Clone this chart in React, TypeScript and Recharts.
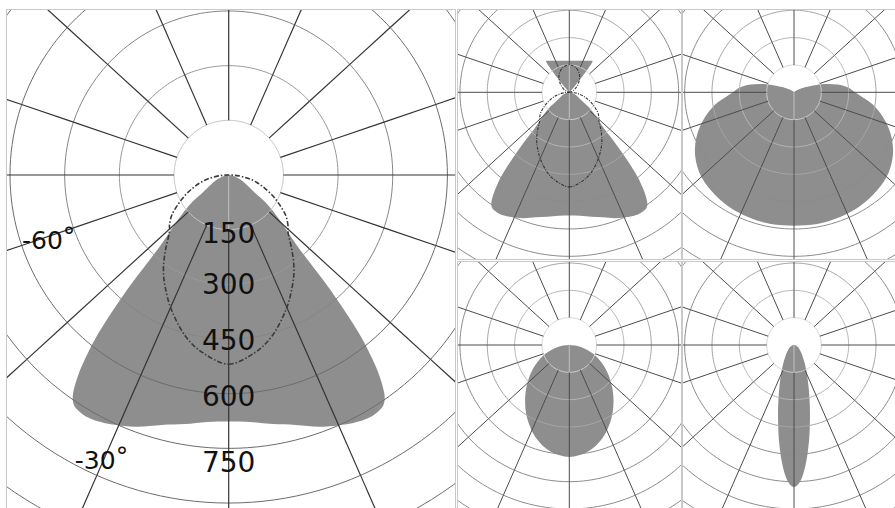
import React from "react"
import { ScatterChart, Scatter, XAxis, YAxis } from "recharts"

// Luminous intensity profiles (cd/klm). Angles are measured from nadir (0°)
// towards zenith (180°); each profile is mirrored about the vertical axis.
const BEAM_ANGLES = [0, 5, 10, 15, 20, 25, 28, 30, 32, 34, 35.5, 37, 38, 39, 40, 41, 42, 43, 44, 46, 48, 50, 53, 56, 60, 65, 70, 75, 80, 85, 90]
const BEAM_CD = [676, 680, 694, 710, 735, 755, 765, 769, 768, 760, 735, 685, 640, 590, 525, 455, 385, 315, 270, 226, 195, 167, 130, 85, 62, 45, 32, 20, 11, 5, 0]

const CROSS_ANGLES = [0, 8, 15, 23, 30, 35, 40, 46, 50, 55, 60, 65, 70, 75, 80, 85, 90]
const CROSS_CD = [519, 494, 458, 402, 350, 312, 270, 226, 212, 190, 160, 132, 105, 80, 55, 28, 0]

const UPLIGHT_ANGLES = [120, 130, 137, 139, 140, 141, 142, 143, 145, 150, 160, 170, 180]
const UPLIGHT_CD = [0, 5, 20, 50, 90, 140, 190, 212, 211, 200, 184, 176, 173]

const UP_CROSS_ANGLES = [90, 105, 120, 135, 150, 165, 180]
const UP_CROSS_CD = [0, 12, 36, 72, 112, 140, 150]

const WIDE_ANGLES = [0, 10, 20, 30, 40, 50, 60, 70, 80, 90, 95, 100, 105, 110, 115, 120, 130, 150, 180]
const WIDE_CD = [732, 734, 730, 722, 706, 680, 628, 549, 450, 335, 298, 243, 174, 105, 62, 35, 12, 3, 0]

const OVAL_ANGLES = [0, 10, 20, 30, 40, 50, 60, 70, 80, 90]
const OVAL_CD = [614, 594, 540, 463, 377, 292, 212, 138, 68, 0]

const NARROW_ANGLES = [0, 2, 4, 6, 8, 10, 13, 16, 20, 25, 30, 40, 50, 60, 75, 90]
const NARROW_CD = [779, 761, 712, 643, 566, 491, 390, 309, 230, 163, 119, 68, 42, 26, 11, 0]

// grid
const RINGS = [150, 300, 450, 600, 750, 900, 1050, 1200]
const SPOKES = [0, 23.7, 47.6, 71.2, 90, 108.8, 132.4, 156.3, 180]
const VALUE_TICKS = [150, 300, 450, 600, 750]
const ANGLE_TICKS = [-60, -30]

const FONT = "'DejaVu Sans', Verdana, sans-serif"
const MAIN_K = 0.3645 // px per cd on the large diagram
const SMALL_K = MAIN_K / 2

type Pt = { x: number; y: number }
type Mode = "open" | "closed" | "smooth"
type Part = { pts: Pt[]; mode: Mode; style: React.SVGProps<SVGPathElement> }

const rad = (d: number) => (d * Math.PI) / 180
const polar = (a: number, r: number): Pt => ({ x: r * Math.sin(rad(a)), y: -r * Math.cos(rad(a)) })

const same = (a: Pt, b: Pt) => Math.abs(a.x - b.x) < 1e-6 && Math.abs(a.y - b.y) < 1e-6

function lobe(angles: number[], cd: number[]): Pt[] {
  const right = angles.map((a, i) => polar(a, cd[i]))
  const left = right.slice().reverse().map((p) => ({ x: -p.x, y: p.y }))
  const out: Pt[] = []
  for (const p of [...right, ...left]) {
    if (!out.length || !same(out[out.length - 1], p)) out.push(p)
  }
  if (out.length > 1 && same(out[0], out[out.length - 1])) out.pop()
  return out
}

function ring(v: number): Pt[] {
  const pts: Pt[] = []
  for (let a = 0; a < 360; a += 2) pts.push(polar(a, v))
  return pts
}

// spokes are split at each ring so every piece stays short
function spokes(): Pt[][] {
  const out: Pt[][] = []
  const stops = [150, ...RINGS.slice(1), 1400]
  SPOKES.forEach((a) => {
    const sides = a > 0 && a < 180 ? [a, -a] : [a]
    sides.forEach((s) => {
      for (let i = 0; i < stops.length - 1; i++) out.push([polar(s, stops[i]), polar(s, stops[i + 1])])
    })
  })
  return out
}

const f = (n: number) => n.toFixed(2)

// closed Catmull-Rom outline through the scaled points
function smoothClosed(pts: Pt[]): string {
  const n = pts.length
  let d = `M${f(pts[0].x)},${f(pts[0].y)}`
  for (let i = 0; i < n; i++) {
    const p0 = pts[(i - 1 + n) % n]
    const p1 = pts[i]
    const p2 = pts[(i + 1) % n]
    const p3 = pts[(i + 2) % n]
    const c1x = p1.x + (p2.x - p0.x) / 6
    const c1y = p1.y + (p2.y - p0.y) / 6
    const c2x = p2.x - (p3.x - p1.x) / 6
    const c2y = p2.y - (p3.y - p1.y) / 6
    d += `C${f(c1x)},${f(c1y)} ${f(c2x)},${f(c2y)} ${f(p2.x)},${f(p2.y)}`
  }
  return d + "Z"
}

function pathD(pts: Pt[], mode: Mode): string {
  if (mode === "smooth") return smoothClosed(pts)
  return pts.map((p, i) => `${i ? "L" : "M"}${f(p.x)},${f(p.y)}`).join("") + (mode === "closed" ? "Z" : "")
}

// One scatter carries every outline of a panel; its joint line is split back
// into the individual parts (already scaled to pixels) and painted in order.
function drawParts(parts: Part[]) {
  // eslint-disable-next-line @typescript-eslint/no-explicit-any
  return (props: any) => {
    const pts: Pt[] = props.points ?? []
    let at = 0
    return (
      <g>
        {parts.map((part, j) => {
          const seg = pts.slice(at, at + part.pts.length)
          at += part.pts.length
          if (seg.length < 2) return null
          return <path key={j} d={pathD(seg, part.mode)} {...part.style} />
        })}
      </g>
    )
  }
}

const noDot = () => <g />

type PanelProps = {
  left: number
  top: number
  width: number
  height: number
  cx: number
  cy: number
  small?: boolean
  fills: Pt[][]
  dashes: Pt[][]
  seams: Pt[][]
  labelled?: boolean
}

const MAIN_RING_COLORS = ["#c6c6c6", "#9a9a9a", "#858585", "#6c6c6c"]
const SMALL_RING_COLORS = ["#d4d4d4", "#b6b6b6", "#a6a6a6", "#8c8c8c"]

function PolarPanel({ left, top, width, height, cx, cy, small, fills, dashes, seams, labelled }: PanelProps) {
  const k = small ? SMALL_K : MAIN_K
  const w = width - 2
  const h = height - 2
  const xDomain = [-cx / k, (w - cx) / k]
  const yDomain = [-(h - cy) / k, cy / k]
  const ringColors = small ? SMALL_RING_COLORS : MAIN_RING_COLORS
  const dash = small
    ? { stroke: "#333", strokeWidth: 1.1, strokeDasharray: "3 1.3 1 1.3", fill: "none" }
    : { stroke: "#3a3a3a", strokeWidth: 1.6, strokeDasharray: "5 2 1.5 2", fill: "none" }

  const parts: Part[] = [
    ...fills.map((pts) => ({
      pts,
      mode: "smooth" as Mode,
      style: { fill: "#000000", fillOpacity: 0.443, stroke: "none" },
    })),
    ...seams.map((pts) => ({
      pts,
      mode: "open" as Mode,
      style: { stroke: "#ffffff", strokeOpacity: 0.45, strokeWidth: 1, fill: "none" },
    })),
    ...RINGS.map((v, i) => ({
      pts: ring(v),
      mode: "closed" as Mode,
      style: { stroke: ringColors[Math.min(i, ringColors.length - 1)], strokeWidth: 1, fill: "none" },
    })),
    ...spokes().map((pts) => ({
      pts,
      mode: "open" as Mode,
      style: { stroke: small ? "#4c4c4c" : "#333333", strokeWidth: small ? 1 : 1.2, fill: "none" },
    })),
    ...dashes.map((pts) => ({ pts, mode: "smooth" as Mode, style: dash })),
  ]
  const allPoints = parts.flatMap((p) => p.pts)

  const valueNudge = [4, 0, 1, 3, 14]
  const valueData = VALUE_TICKS.map((v, i) => ({ x: 0, y: -v, text: String(v), dy: valueNudge[i] }))
  const angleSpots = [polar(-69.9, 526), polar(-24, 858)]
  const angleData = ANGLE_TICKS.map((v, i) => ({ ...angleSpots[i], text: String(v) }))

  return (
    <div
      style={{
        position: "absolute",
        left,
        top,
        width,
        height,
        border: "1px solid #c9c9c9",
        boxSizing: "border-box",
        overflow: "hidden",
        background: "#fff",
      }}
    >
      <ScatterChart width={w} height={h} margin={{ top: 0, right: 0, bottom: 0, left: 0 }}>
        <XAxis type="number" dataKey="x" domain={xDomain} allowDataOverflow hide />
        <YAxis type="number" dataKey="y" domain={yDomain} allowDataOverflow hide />
        <Scatter data={allPoints} line={drawParts(parts)} lineType="joint" shape={noDot} isAnimationActive={false} />
        {labelled && (
          <Scatter
            data={valueData}
            isAnimationActive={false}
            // eslint-disable-next-line @typescript-eslint/no-explicit-any
            shape={(p: any) => (
              <text
                x={p.cx}
                y={p.cy + p.payload.dy}
                textAnchor="middle"
                dominantBaseline="central"
                fontSize={28}
                fontFamily={FONT}
                fill="#111"
              >
                {p.payload.text}
              </text>
            )}
          />
        )}
        {labelled && (
          <Scatter
            data={angleData}
            isAnimationActive={false}
            // eslint-disable-next-line @typescript-eslint/no-explicit-any
            shape={(p: any) => (
              <text
                x={p.cx}
                y={p.cy}
                textAnchor="middle"
                dominantBaseline="central"
                fontSize={25}
                fontFamily={FONT}
                fill="#111"
              >
                {p.payload.text}
                <tspan dy={-5}>°</tspan>
              </text>
            )}
          />
        )}
      </ScatterChart>
    </div>
  )
}

export default function App() {
  const beam = lobe(BEAM_ANGLES, BEAM_CD)
  const cross = lobe(CROSS_ANGLES, CROSS_CD)
  const beamWithUplight = lobe([...BEAM_ANGLES, ...UPLIGHT_ANGLES], [...BEAM_CD, ...UPLIGHT_CD])
  const upCross = lobe(UP_CROSS_ANGLES, UP_CROSS_CD)
  const wide = lobe(WIDE_ANGLES, WIDE_CD)
  const oval = lobe(OVAL_ANGLES, OVAL_CD)
  const narrow = lobe(NARROW_ANGLES, NARROW_CD)
  const seamDown = [polar(0, 0), polar(0, 150)]
  const seamUp = [polar(180, 0), polar(180, 150)]

  return (
    <div
      style={{
        position: "absolute",
        left: 0,
        top: 0,
        width: 895,
        height: 508,
        overflow: "hidden",
        background: "#fff",
      }}
    >
      <PolarPanel left={6} top={9} width={450} height={502} cx={221.7} cy={165} fills={[beam]} dashes={[cross]} seams={[seamDown]} labelled />
      <PolarPanel left={457} top={9} width={225} height={251} cx={111.3} cy={82.3} small fills={[beamWithUplight]} dashes={[cross, upCross]} seams={[seamDown, seamUp]} />
      <PolarPanel left={682} top={9} width={225} height={251} cx={111} cy={82.3} small fills={[wide]} dashes={[]} seams={[seamDown]} />
      <PolarPanel left={457} top={261} width={225} height={251} cx={111.3} cy={83} small fills={[oval]} dashes={[]} seams={[seamDown]} />
      <PolarPanel left={682} top={261} width={225} height={251} cx={111} cy={83} small fills={[narrow]} dashes={[]} seams={[seamDown]} />
    </div>
  )
}
